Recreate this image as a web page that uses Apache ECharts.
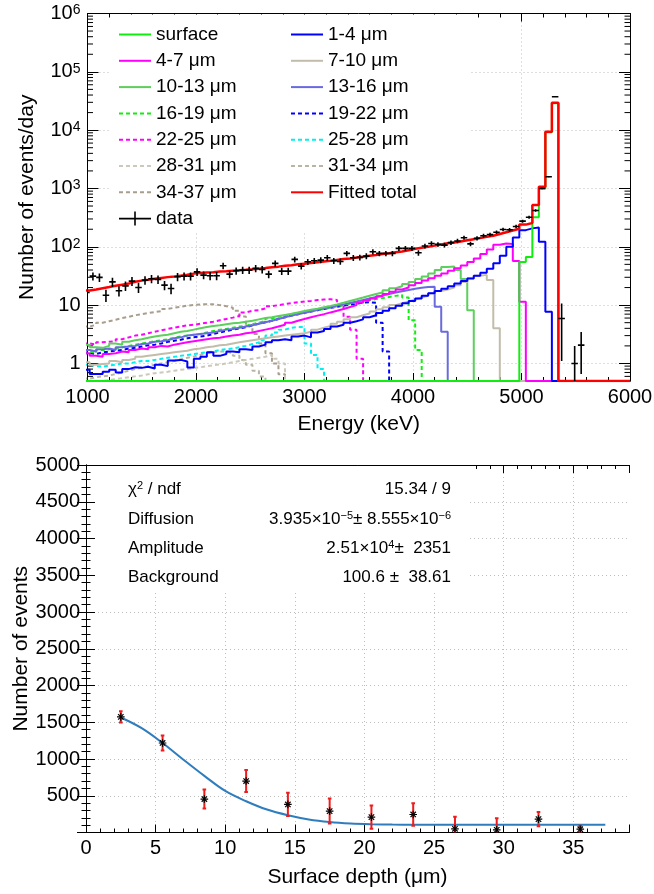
<!DOCTYPE html>
<html>
<head>
<meta charset="utf-8">
<script src="https://cdn.jsdelivr.net/npm/echarts@6/dist/echarts.min.js"></script>
<style>
html,body{margin:0;padding:0;background:#fff;}
#main{width:654px;height:894px;}
</style>
</head>
<body>
<div id="main"></div>
<script>
var FONT = '"Liberation Sans", Arial, Helvetica, sans-serif';

// spectrum binning (keV): bin k goes from binLo+k*binW to binLo+(k+1)*binW
var binLo = 960, binW = 60, nBins = 84;
var yFloor = 0.5;

// fitted total and components, events/day per bin, starting at bin 0
var fitTotal = [17.8,18.6,19.5,20.4,21.4,22.4,23.4,25.1,26.3,27.2, 28.2,29.2,30.2,30.9,32,33.1,34.7,35.5,36.3,36.7,
  37.6,38,38.9,39.8,40.3,41.2,42.2,43.2,44.7,45.7, 47.3,48.4,50.1,51.3,52.5,54.3,56.2,57.5,59.6,61.7,
  63.1,65.3,67.6,70,72.4,75,77.6,80.4,83.2,87.1, 92.3,96.6,100,104.7,109.6,114.8,119,123,129,135,
  141,148,155,166,178,190,204,240,255,519, 1070,9400,29500];
var surfaceFirstBin = 67;
var surface = [55,67,320,1000,9200,29000];
var d1_4 = [0.78,0.66,0.66,0.72,0.78,0.7,0.8,0.86,0.84,0.88, 0.82,0.95,0.9,1.12,1.15,1.08,0.85,1.2,1.3,1.55,
  1.35,1.45,1.6,1.55,1.75,1.7,1.95,2.1,2.3,2.5, 2.6,2.5,2.9,3.0,2.8,3.4,3.6,3.9,4.3,4.6,
  5.0,5.3,5.7,6.2,6.7,7.3,8.0,8.8,9.8,10.8, 11.8,13,14.5,16,17.5,19,21,23.5,26,28.5,
  32,36,42,52,70,100,145,193,207,215, 122,7.7];
var d4_7 = [1.5,1.35,1.3,1.45,1.5,1.6,1.55,1.7,1.8,1.75, 1.9,2.0,1.95,2.1,2.2,2.3,2.4,2.5,2.6,2.7,
  2.75,2.9,3.0,3.1,3.3,3.4,3.6,3.8,4.0,4.3, 4.6,5.0,5.4,5.8,6.2,6.6,7.0,7.5,8.0,8.6,
  9.3,10,11,12,13,14.2,15.5,17,18.5,20, 22,24,26.5,29,32,35,39,43,48,55,
  63,75,90,108,114,112,57,11.4];
var d7_10 = [1.05,0.95,0.98,1.0,1.1,1.05,1.15,1.2,1.3,1.35, 1.4,1.45,1.5,1.55,1.6,1.65,1.75,1.8,1.9,1.95,
  2.05,2.1,2.2,2.3,2.4,2.5,2.6,2.7,2.8,2.9, 3.0,3.1,3.2,3.3,3.5,3.8,4.1,4.4,4.8,5.2,
  5.7,6.2,6.7,7.2,7.8,8.5,9.2,10,10.8,11.6, 12.5,13.5,14.5,16,17.5,18.5,20,22,25,29,
  32,33,27,4];
var d10_13 = [2.1,1.9,1.85,2.0,2.2,2.1,2.35,2.5,2.6,2.75, 2.9,3.0,3.1,3.3,3.5,3.6,3.8,4.0,4.2,4.4,
  4.5,4.7,4.9,5.0,5.2,5.4,5.7,6.0,6.2,6.5, 6.8,7.1,7.5,7.9,8.3,8.7,9.2,9.7,10.3,11,
  11.8,12.6,13.5,14.5,15.5,16.5,18,19.5,21,23, 25,28,31,35,40,45,46,40,28,8.2];
var d13_16 = [1.7,1.6,1.75,1.8,1.7,1.9,1.95,2.0,2.15,2.2, 2.35,2.4,2.5,2.7,2.8,3.0,3.1,3.2,3.3,3.4,
  3.6,3.8,3.9,4.1,4.3,4.5,4.8,5.1,5.4,5.8, 6.2,6.6,7.0,7.4,7.8,8.3,8.8,9.3,9.8,10.3,
  10.9,11.5,12.2,13,13.8,14.6,15.5,16.4,17.3,18.2, 19,19.8,20.5,20.6,9.4,3.5];
var d16_19 = [1.6,1.5,1.7,1.75,1.8,1.9,2.0,2.1,2.2,2.3, 2.4,2.5,2.6,2.75,2.9,3.0,3.1,3.2,3.4,3.6,
  3.8,3.9,4.1,4.3,4.4,4.7,5.0,5.4,5.9,6.3, 6.6,7.0,7.3,7.6,7.9,8.2,8.6,9.0,9.5,10,
  10.6,11.1,11.6,12.2,12.7,13.2,13.8,14.4,14.9,13.5, 5.5,1.7];
var d19_22 = [1.5,1.45,1.55,1.6,1.65,1.7,1.8,1.85,1.95,2.05, 2.1,2.2,2.35,2.45,2.55,2.7,2.8,2.9,3.0,3.2,
  3.4,3.6,3.8,4.0,4.2,4.5,4.8,5.1,5.4,5.8, 6.2,6.6,7.0,7.4,7.8,8.2,8.6,9.0,9.4,9.8,
  10.2,10.6,11.0,11.2,11,5,1.6];
var d22_25 = [2.2,2.1,2.3,2.35,2.4,2.6,2.8,3.0,3.1,3.3, 3.5,3.7,3.9,4.1,4.3,4.5,4.6,4.8,5.0,5.2,
  5.5,5.8,6.1,6.5,7.5,8.0,8.2,8.8,9.6,10, 10.4,10.8,11.2,11.5,11.8,12.2,12.5,12.6,12.3,10,
  6.3,3.8,1.2];
var d25_28 = [0.95,0.9,0.88,0.92,0.95,1.0,1.0,1.05,1.1,1.1, 1.15,1.2,1.25,1.3,1.35,1.4,1.45,1.5,1.55,1.6,
  1.7,1.75,1.8,1.9,2.0,2.15,2.3,2.5,3.0,3.4, 3.8,4.1,4.2,4.2,2.2,1.4,0.8];
var d28_31 = [0,0,0.5,0.52,0.54,0.56,0.58,0.6,0.62,0.65, 0.68,0.7,0.72,0.75,0.78,0.8,0.83,0.86,0.9,0.93,
  0.96,1.0,1.05,1.1,1.15,1.2,1.25,1.3,1.39,1.2, 1.0,0.5];
var d31_34 = [0.55,0.58,0.6,0.62,0.66,0.7,0.75,0.8,0.85,0.9, 0.95,1.0,1.05,1.1,1.18,1.25,1.32,1.4,1.5,1.55,
  1.6,1.6,1.5,1.35,1.15,0.95,0.75,0.6];
var d34_37 = [4.3,4.6,5.0,5.3,5.6,6.0,6.3,6.7,7.0,7.3, 7.6,7.9,8.6,9.0,9.4,9.8,10.1,10.3,10.4,10.3,
  10.0,9.6,9.0,8.0,6.4,4.5,3.2,2.2,1.5,1.0, 0.65];

// measured rate per bin (0 = empty bin) and its error
var dataVal = [16.5,31.4,29.9,14.8,25,17.6,21.4,25.8,20.1,26.8, 28.3,27.6,22,19.3,30.6,31.4,31.4,37.2,32.7,31.8,
  31.8,47.2,34,38.8,39.8,39.8,42.6,41,34,51.9, 38.3,38.3,60.8,46.7,55.3,57.5,59.1,64.8,57.5,56,
  77,64.8,65.8,69.2,82,77,77,77,93.8,93.8, 93.8,78.9,103,114,110,107,118,126,143,112,
  140,155,162,178,198,196,223,275,322,420, 1000,1590,37400,5.9,0,1.0,2.06];
var dataErr = [3.5,5,5,3.5,4.5,3.5,4,4.5,4,4.5, 4.5,4.5,4,4,5,5,5,5.5,5,5,
  5,6,5,5.5,5.5,5.5,6,6,5,6.5, 5.5,5.5,7,6,6.5,7,7,7.5,7,7,
  8,7.5,7.5,8,8.5,8,8,8,9,9, 9,8.5,9.5,10,10,10,10.5,11,11.5,10,
  11.5,12,12.5,13,14,14,15,16,18,20, 30,40,190,4.8,0,1.0,1.4];

// lower panel: counts per depth slice and fitted curve
var depth = [2.5,5.5,8.5,11.5,14.5,17.5,20.5,23.5,26.5,29.5,32.5,35.5];
var counts = [1573,1218,455,700,382,291,209,245,50,36,182,45];
var countErr = [75,102,130,150,159,170,157,152,164,159,98,46];
var fitDepth = [2.5,4,5.5,7,8.5,10,11.5,13,14.5,16,17.5,19,20.5,22,23.5,26.5,30,33,37.3];
var fitCounts = [1565,1420,1218,990,770,565,425,312,235,178,143,123,113,108,106,105,105,105,105];

var components = [
  {name: '34-37 μm', vals: d34_37, color: '#a99e8d', dash: [4, 3]},
  {name: '31-34 μm', vals: d31_34, color: '#bab4a4', dash: [4, 3]},
  {name: '28-31 μm', vals: d28_31, color: '#ccc8bb', dash: [4, 3]},
  {name: '25-28 μm', vals: d25_28, color: '#00f0f0', dash: [4, 3]},
  {name: '22-25 μm', vals: d22_25, color: '#ff00ff', dash: [4, 3]},
  {name: '19-22 μm', vals: d19_22, color: '#0000ff', dash: [4, 3]},
  {name: '16-19 μm', vals: d16_19, color: '#10ee10', dash: [4, 3]},
  {name: '13-16 μm', vals: d13_16, color: '#6a6ae0', dash: 'solid'},
  {name: '10-13 μm', vals: d10_13, color: '#5ccf5c', dash: 'solid'},
  {name: '7-10 μm', vals: d7_10, color: '#c2bdaa', dash: 'solid'},
  {name: '4-7 μm', vals: d4_7, color: '#ff00ff', dash: 'solid'},
  {name: '1-4 μm', vals: d1_4, color: '#0000ff', dash: 'solid'},
  {name: 'surface', vals: surface, first: surfaceFirstBin, color: '#10ee10', dash: 'solid'},
  {name: 'Fitted total', vals: fitTotal, color: '#ff0000', dash: 'solid', width: 2.5}
];

// histogram as a step line over bin edges, empty bins sit on the frame
function histPoints(vals, first) {
  first = first || 0;
  var pts = [];
  for (var i = 0; i < nBins; i++) {
    var j = i - first;
    var v = (j >= 0 && j < vals.length) ? vals[j] : 0;
    pts.push([binLo + i * binW, v > yFloor ? v : yFloor]);
  }
  pts.push([binLo + nBins * binW, yFloor]);
  return pts;
}

var series = [];
components.forEach(function (c) {
  series.push({
    type: 'line', name: c.name, xAxisIndex: 0, yAxisIndex: 0,
    data: histPoints(c.vals, c.first), step: 'end',
    symbol: 'none', showSymbol: false,
    lineStyle: {color: c.color, width: c.width || 2, type: c.dash},
    itemStyle: {color: c.color}
  });
});

var dataPts = [];
for (var k = 0; k < dataVal.length; k++) {
  if (dataVal[k] > 0) dataPts.push([binLo + (k + 0.5) * binW, dataVal[k], dataErr[k]]);
}
series.push({
  type: 'custom', name: 'data', xAxisIndex: 0, yAxisIndex: 0, clip: true, z: 5,
  itemStyle: {color: '#000'},
  encode: {x: 0, y: 1},
  data: dataPts,
  renderItem: function (params, api) {
    var x = api.value(0), y = api.value(1), e = api.value(2);
    var c = api.coord([x, y]);
    var lo = api.coord([x, Math.max(y - e, yFloor * 0.5)]);
    var hi = api.coord([x, y + e]);
    var l = api.coord([x - binW / 2, y]);
    var r = api.coord([x + binW / 2, y]);
    var st = {stroke: '#000', lineWidth: 1.6};
    return {type: 'group', children: [
      {type: 'line', shape: {x1: c[0], y1: lo[1], x2: c[0], y2: hi[1]}, style: st},
      {type: 'line', shape: {x1: l[0], y1: c[1], x2: r[0], y2: c[1]}, style: st}
    ]};
  }
});

// log minor ticks (ROOT style 2..9 per decade) on both sides of the upper frame
var logMinor = [];
for (var dec = -1; dec < 6; dec++) {
  for (var m = 2; m <= 9; m++) {
    var v = m * Math.pow(10, dec);
    if (v > yFloor) logMinor.push([1000, v]);
  }
}
series.push({
  type: 'custom', xAxisIndex: 0, yAxisIndex: 0, silent: true, z: 3,
  encode: {x: 0, y: 1},
  data: logMinor,
  renderItem: function (params, api) {
    var p = api.coord([1000, api.value(1)]);
    var cs = params.coordSys;
    var st = {stroke: '#000', lineWidth: 1};
    return {type: 'group', children: [
      {type: 'line', shape: {x1: cs.x, y1: p[1], x2: cs.x + 5.5, y2: p[1]}, style: st},
      {type: 'line', shape: {x1: cs.x + cs.width - 5.5, y1: p[1], x2: cs.x + cs.width, y2: p[1]}, style: st}
    ]};
  }
});

// lower panel
series.push({
  type: 'line', xAxisIndex: 2, yAxisIndex: 2, smooth: 0.35,
  data: fitDepth.map(function (d, i) { return [d, fitCounts[i]]; }),
  symbol: 'none', lineStyle: {color: '#2f7dbd', width: 2}, z: 3
});
series.push({
  type: 'custom', xAxisIndex: 2, yAxisIndex: 2, clip: true, z: 4,
  encode: {x: 0, y: 1},
  data: depth.map(function (d, i) { return [d, counts[i], countErr[i]]; }),
  renderItem: function (params, api) {
    var x = api.value(0), y = api.value(1), e = api.value(2);
    var c = api.coord([x, y]);
    var lo = api.coord([x, y - e]);
    var hi = api.coord([x, y + e]);
    var r = 3.8, d = 2.7, cap = 1.8;
    var red = {stroke: '#ee1c1c', lineWidth: 2};
    var blk = {stroke: '#000', lineWidth: 1.2};
    return {type: 'group', children: [
      {type: 'line', shape: {x1: c[0], y1: lo[1], x2: c[0], y2: hi[1]}, style: red},
      {type: 'line', shape: {x1: c[0] - cap, y1: lo[1], x2: c[0] + cap, y2: lo[1]}, style: red},
      {type: 'line', shape: {x1: c[0] - cap, y1: hi[1], x2: c[0] + cap, y2: hi[1]}, style: red},
      {type: 'line', shape: {x1: c[0] - r, y1: c[1], x2: c[0] + r, y2: c[1]}, style: blk},
      {type: 'line', shape: {x1: c[0], y1: c[1] - r, x2: c[0], y2: c[1] + r}, style: blk},
      {type: 'line', shape: {x1: c[0] - d, y1: c[1] - d, x2: c[0] + d, y2: c[1] + d}, style: blk},
      {type: 'line', shape: {x1: c[0] - d, y1: c[1] + d, x2: c[0] + d, y2: c[1] - d}, style: blk}
    ]};
  }
});

var black = {color: '#000', width: 1};
var dotted = {show: true, showMinLine: false, showMaxLine: false, lineStyle: {color: '#bdbdbd', type: [1, 3], width: 1}};
var titleStyle = {fontFamily: FONT, fontSize: 21, color: '#000'};

function tickAxis(extra) {
  var a = {
    type: 'value', axisLine: {show: true, lineStyle: black},
    axisTick: {show: true, inside: true, length: 8, lineStyle: black},
    axisLabel: {show: false}, splitLine: {show: false}, nameMoveOverlap: false
  };
  for (var key in extra) a[key] = extra[key];
  return a;
}

function logLabel(v) {
  var lg = Math.log(v) / Math.LN10;
  var e = Math.round(lg);
  if (Math.abs(lg - e) > 1e-6) return '';
  if (e === 0) return '1';
  if (e === 1) return '10';
  return '{n|10}{s|' + e + '}';
}

var logRich = {
  n: {fontFamily: FONT, fontSize: 20, color: '#000'},
  s: {fontFamily: FONT, fontSize: 14, color: '#000', verticalAlign: 'top', lineHeight: 13}
};

// legend: hide the point symbol of line items, keep the line sample
var legendBase = {
  orient: 'vertical', top: 20, itemWidth: 32, itemHeight: 14, itemGap: 7.3,
  selectedMode: false, itemStyle: {opacity: 0},
  textStyle: {fontFamily: FONT, fontSize: 19, color: '#000'}
};
function legendAt(left, names) {
  var l = {left: left, data: names};
  for (var key in legendBase) l[key] = legendBase[key];
  return l;
}

var option = {
  animation: false,
  backgroundColor: '#fff',
  textStyle: {fontFamily: FONT},
  grid: [
    {left: 87.5, top: 13.5, width: 542.5, height: 367.5, outerBoundsMode: 'none'},
    {left: 86, top: 465, width: 543, height: 367.5, outerBoundsMode: 'none'}
  ],
  legend: [
    legendAt(113, ['surface', '4-7 μm', '10-13 μm', '16-19 μm', '22-25 μm', '28-31 μm', '34-37 μm',
      {name: 'data', icon: 'path://M0,6.2h32v1.6h-32z M15.2,0h1.6v14h-1.6z', itemStyle: {color: '#000', opacity: 1}}]),
    legendAt(285, ['1-4 μm', '7-10 μm', '13-16 μm', '19-22 μm', '25-28 μm', '31-34 μm', 'Fitted total'])
  ],
  xAxis: [
    tickAxis({gridIndex: 0, position: 'bottom', min: 1000, max: 6000, interval: 1000,
      minorTick: {show: true, splitNumber: 5, length: 4, lineStyle: black},
      splitLine: dotted,
      axisLabel: {show: true, margin: 6, fontFamily: FONT, fontSize: 20, color: '#000',
        formatter: function (v) { return String(v); }},
      name: 'Energy (keV)', nameLocation: 'middle', nameGap: 33, nameTextStyle: titleStyle}),
    tickAxis({gridIndex: 0, position: 'top', min: 1000, max: 6000, interval: 1000,
      minorTick: {show: true, splitNumber: 5, length: 4, lineStyle: black}}),
    tickAxis({gridIndex: 1, position: 'bottom', min: 0, max: 39, interval: 5,
      splitLine: dotted,
      axisLabel: {show: true, margin: 6, fontFamily: FONT, fontSize: 20, color: '#000',
        formatter: function (v) { return v % 5 === 0 ? String(v) : ''; }},
      name: 'Surface depth (μm)', nameLocation: 'middle', nameGap: 34, nameTextStyle: titleStyle}),
    tickAxis({gridIndex: 1, position: 'bottom', min: 0, max: 39, interval: 1,
      axisTick: {show: true, inside: true, length: 4, lineStyle: black}}),
    tickAxis({gridIndex: 1, position: 'top', min: 0, max: 39, interval: 5}),
    tickAxis({gridIndex: 1, position: 'top', min: 0, max: 39, interval: 1,
      axisTick: {show: true, inside: true, length: 4, lineStyle: black}})
  ],
  yAxis: [
    tickAxis({gridIndex: 0, type: 'log', logBase: 10, position: 'left', min: yFloor, max: 1e6,
      axisTick: {show: true, inside: true, length: 11, lineStyle: black},
      splitLine: dotted,
      axisLabel: {show: true, margin: 7, fontFamily: FONT, fontSize: 20, color: '#000',
        formatter: logLabel, rich: logRich, showMinLabel: false},
      name: 'Number of events/day', nameLocation: 'middle', nameGap: 50, nameTextStyle: titleStyle}),
    tickAxis({gridIndex: 0, type: 'log', logBase: 10, position: 'right', min: yFloor, max: 1e6,
      axisTick: {show: true, inside: true, length: 11, lineStyle: black}}),
    tickAxis({gridIndex: 1, position: 'left', min: 0, max: 5000, interval: 500,
      axisTick: {show: true, inside: true, length: 9, lineStyle: black},
      minorTick: {show: true, splitNumber: 5, length: 4.5, lineStyle: black},
      splitLine: dotted,
      axisLabel: {show: true, margin: 6, fontFamily: FONT, fontSize: 20, color: '#000',
        formatter: function (v) { return v === 0 ? '' : String(v); }},
      name: 'Number of events', nameLocation: 'middle', nameGap: 54, nameTextStyle: titleStyle}),
    tickAxis({gridIndex: 1, position: 'right', min: 0, max: 5000, interval: 500,
      axisTick: {show: true, inside: true, length: 9, lineStyle: black},
      minorTick: {show: true, splitNumber: 5, length: 4.5, lineStyle: black}})
  ],
  graphic: [
    {type: 'rect', z: 1, silent: true, shape: {x: 110, y: 14.5, width: 360, height: 217}, style: {fill: '#fff'}},
    {type: 'rect', z: 1, silent: true, shape: {x: 97, y: 466, width: 370, height: 126}, style: {fill: '#fff'}}
  ],
  series: series
};

// fit statistics box of the lower panel
var statNames = ['{n|χ}{s|2}{n| / ndf}', 'Diffusion', 'Amplitude', 'Background'];
var statValues = ['15.34 / 9', '3.935×10{s|−5}± 8.555×10{s|−6}', '2.51×10{s|4}±  2351', '100.6 ±  38.61'];
var statRich = {
  n: {fontFamily: FONT, fontSize: 17, color: '#000'},
  s: {fontFamily: FONT, fontSize: 11, color: '#000', verticalAlign: 'top', lineHeight: 11}
};
var statY = [489, 519, 548, 577];
statNames.forEach(function (t, i) {
  option.graphic.push({type: 'text', z: 3, silent: true,
    style: {text: t, x: 128, y: statY[i], align: 'left', verticalAlign: 'middle',
      fontFamily: FONT, fontSize: 17, fill: '#000', rich: statRich}});
  option.graphic.push({type: 'text', z: 3, silent: true,
    style: {text: statValues[i], x: 451, y: statY[i], align: 'right', verticalAlign: 'middle',
      fontFamily: FONT, fontSize: 17, fill: '#000', rich: statRich}});
});

var myChart = echarts.init(document.getElementById('main'), null, {renderer: 'canvas'});
myChart.setOption(option);
</script>
</body>
</html>
